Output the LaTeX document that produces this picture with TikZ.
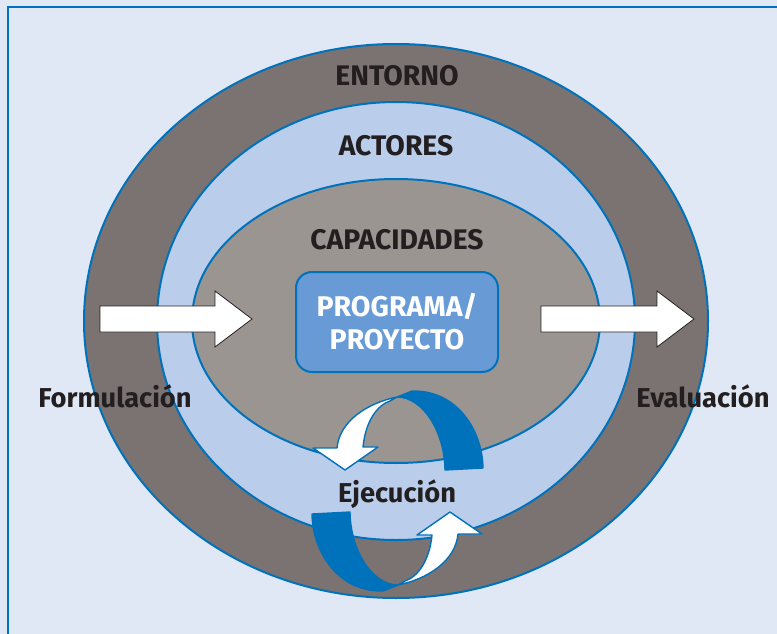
\documentclass[tikz,border=0pt]{standalone}
\usepackage{fontspec}
\setmainfont{Fira Sans}
\definecolor{fondo}{HTML}{E1E8F5}
\definecolor{azul}{HTML}{0072BC}
\definecolor{entorno}{HTML}{7B7371}
\definecolor{actores}{HTML}{BACEEB}
\definecolor{capacid}{HTML}{9B9592}
\definecolor{caja}{HTML}{689BD5}
\definecolor{tinta}{HTML}{231F20}
\tikzset{
  anillo/.style={draw=azul, line width=2pt},
  flecha/.style={fill=white, draw=tinta, line width=0.8pt, line join=miter},
  cinta/.style={draw=azul, line width=1.4pt, line join=round},
  rotulo/.style={text=tinta, font=\fontsize{27.3}{30}\selectfont\bfseries, inner sep=0pt, anchor=base},
  titulo/.style={rotulo, font=\fontsize{28.3}{30}\selectfont\bfseries},
}
\begin{document}
\begin{tikzpicture}[x=1pt,y=-1pt]
                            \useasboundingbox (0,0) rectangle (777,634);

                            % Drawing background and frame
                            \fill [fondo] (0,0) rectangle (777,634);%
                            \draw [azul, line width=2.5pt] (8,634) -- (8,7) -- (777,7);%

                            % Drawing ellipse ENTORNO
                            \filldraw [anillo, fill=entorno] (396,321) ellipse (312 and 277);%

                            % Drawing ellipse ACTORES
                            \filldraw [anillo, fill=actores] (396,321) ellipse (239 and 219);%

                            % Drawing ellipse CAPACIDADES
                            \filldraw [anillo, fill=capacid] (396,321) ellipse (204 and 142);%

                            % Drawing box PROGRAMA/PROYECTO
                            \node (prog) [draw=azul, fill=caja, line width=2pt, rounded corners=16pt,
                              minimum width=202pt, minimum height=100pt, align=center, text=white,
                              font=\fontsize{28.5}{33}\selectfont\bfseries] at (397,322) {PROGRAMA/\\PROYECTO};%

                            % Drawing arrow Formulacion
                            \draw [flecha] (100,306) -- (215,306) -- (215,291) -- (252,319) -- (215,347) -- (215,332) -- (100,332) -- cycle;%

                            % Drawing arrow Evaluacion
                            \draw [flecha] (541,306) -- (657,306) -- (657,291) -- (694,319) -- (657,347) -- (657,332) -- (541,332) -- cycle;%

                            % Drawing the two turning arrows of Ejecucion
                            \foreach \giro in {0,180} {
                              \begin{scope}[shift={(397.5,491)}, rotate=\giro]
                                \filldraw [cinta, fill=azul] (14.5,-100) .. controls (60,-101) and (85,-60) .. (85.5,-23) -- (47.5,-21) .. controls (47,-60) and (25,-94) .. (-0.5,-94) -- cycle;%
                                \filldraw [cinta, fill=white] (-0.5,-94) .. controls (-30,-88) and (-58,-70) .. (-60.5,-43) -- (-84.5,-43) -- (-52.5,-21) -- (-19.5,-44) -- (-34.5,-44) .. controls (-32,-70) and (-20,-86) .. (-7.5,-90) -- cycle;%
                              \end{scope}
                            }

                            % Marking labels
                            \node (entorno) [titulo] at (397,85) {ENTORNO};%
                            \node (actores) [titulo] at (396,155) {ACTORES};%
                            \node (capacidades) [titulo] at (397,249) {CAPACIDADES};%
                            \node (formulacion) [rotulo] at (115,407) {Formulación};%
                            \node (evaluacion) [rotulo] at (703,407) {Evaluación};%
                            \node (ejecucion) [rotulo] at (397,502) {Ejecución};%
\end{tikzpicture}
\end{document}
